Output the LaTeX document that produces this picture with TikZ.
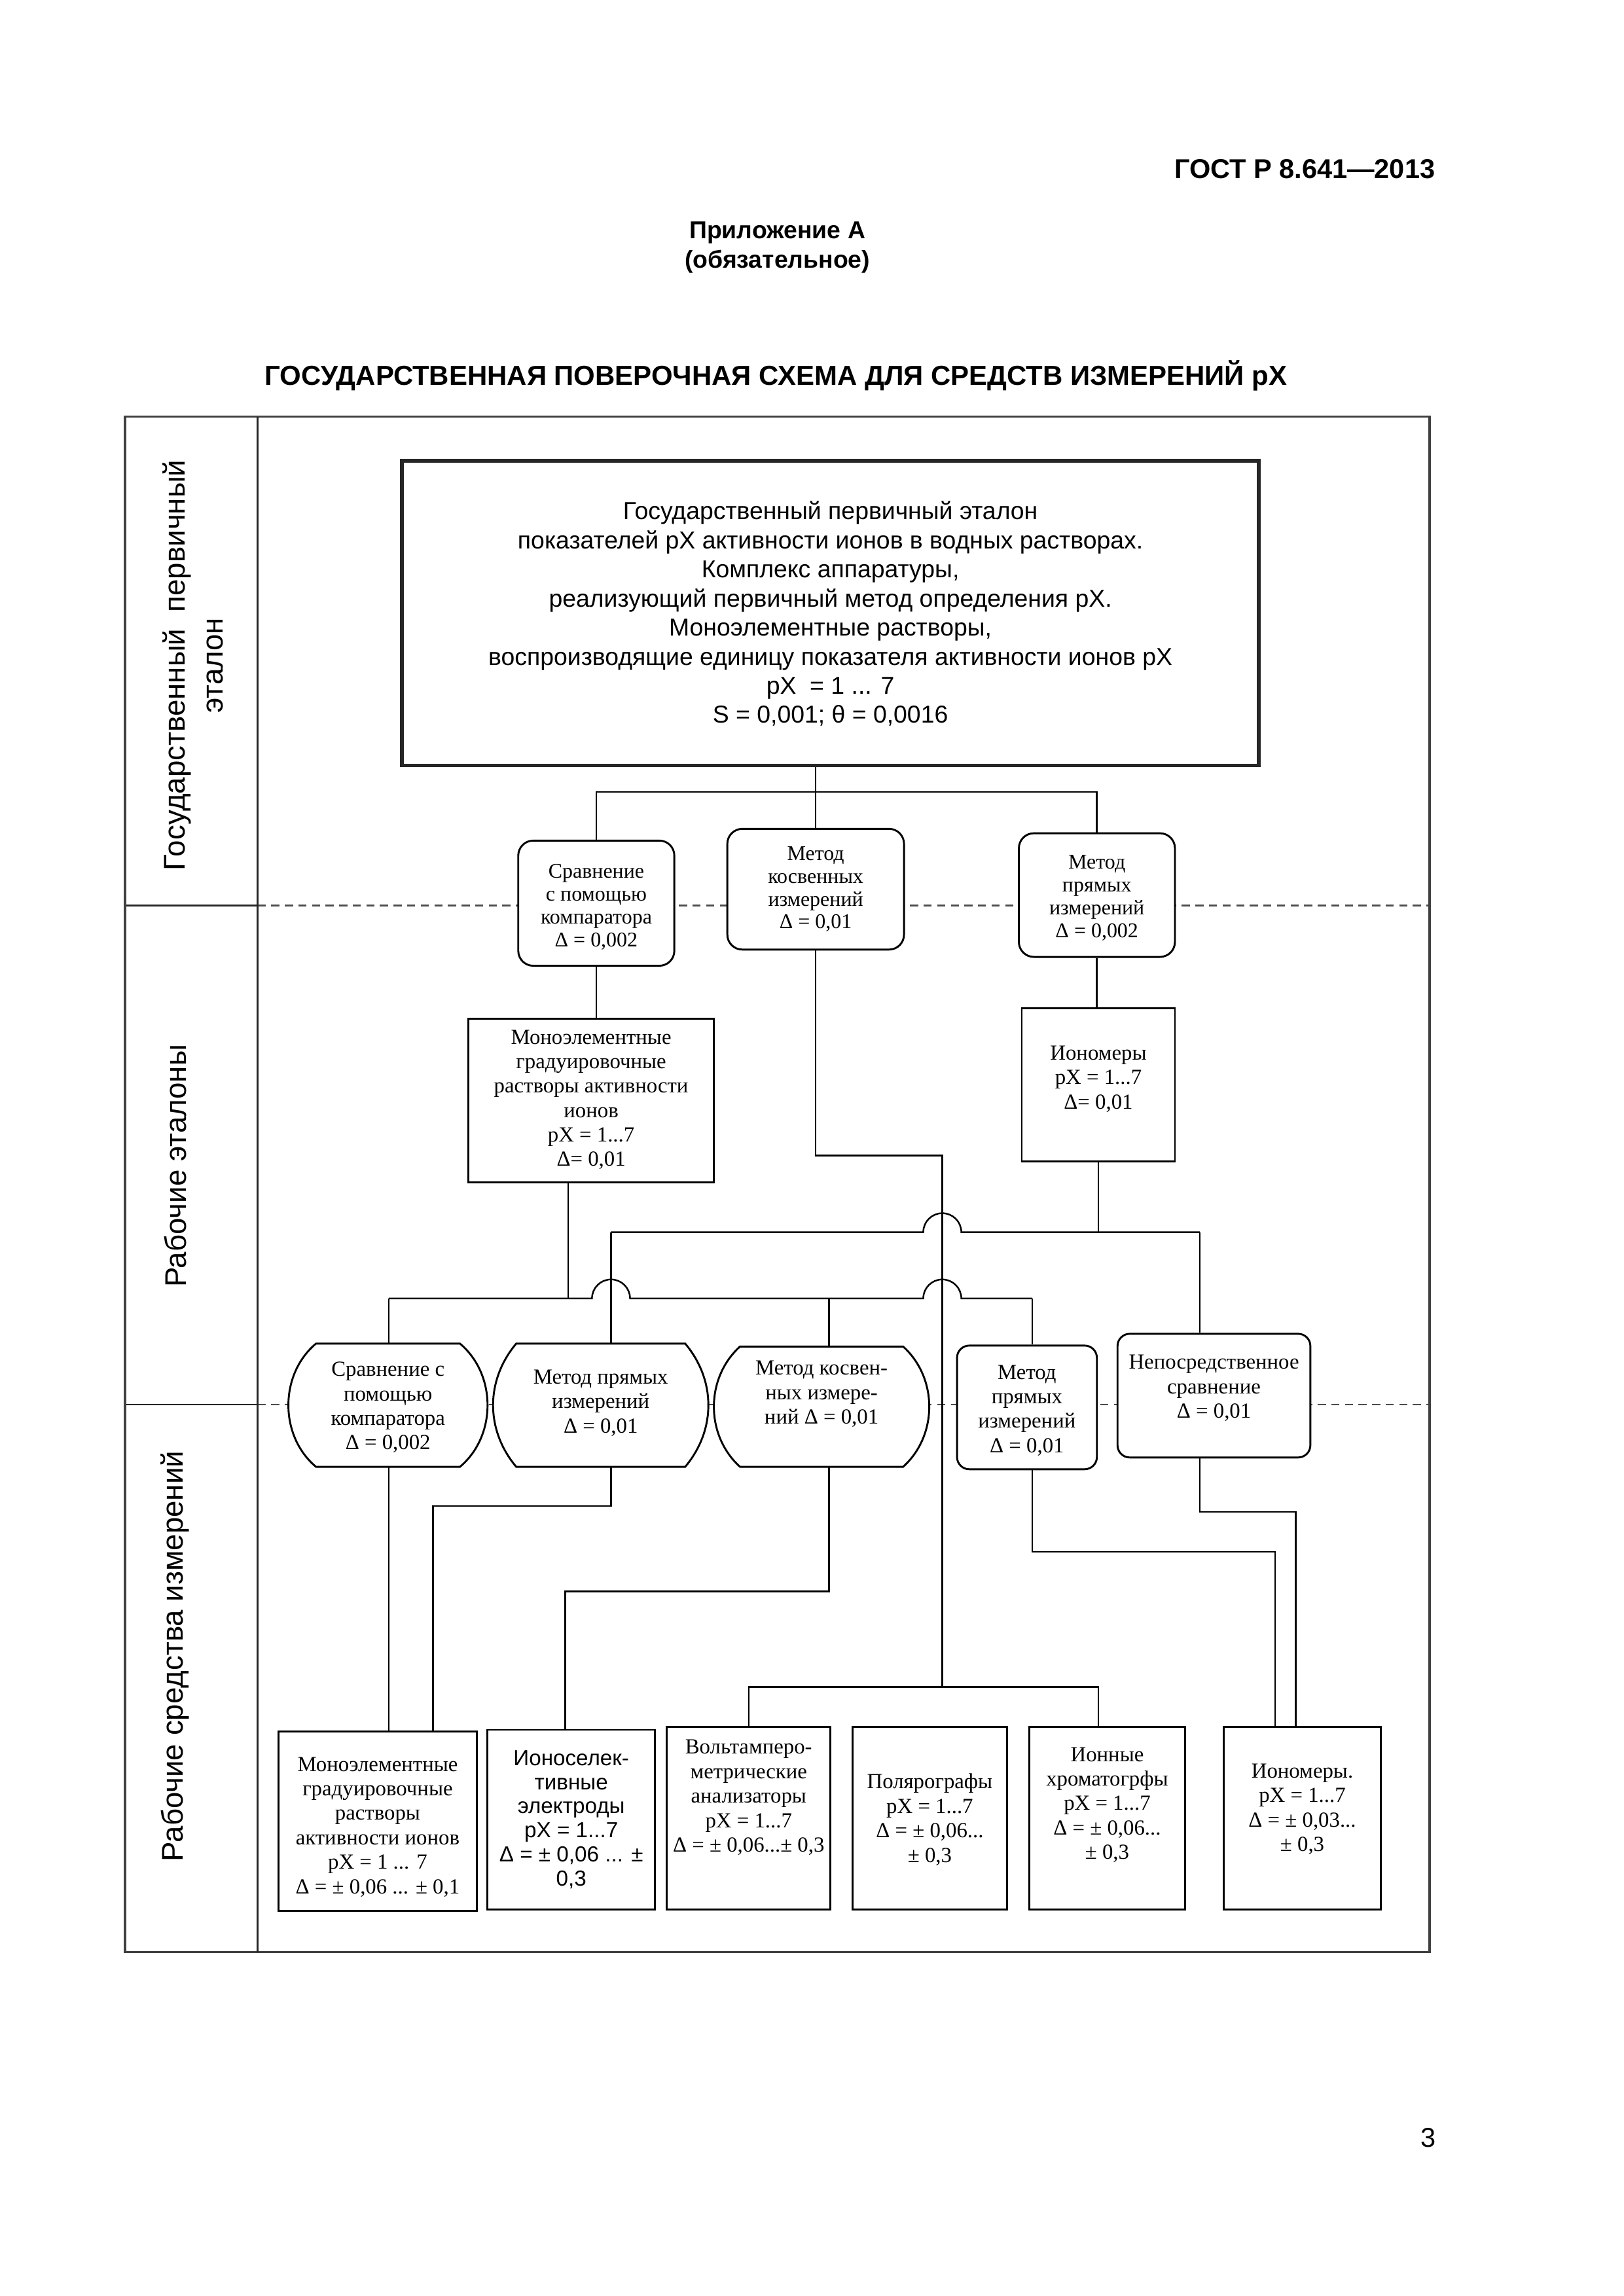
\documentclass[tikz,border=0pt]{standalone}
\usepackage{fontspec}
\setmainfont{Liberation Serif}
\newfontfamily\arialf{Liberation Sans}
\usetikzlibrary{calc,fit}
\begin{document}
\begin{tikzpicture}[x=0.19039mm,y=-0.19039mm,
  box/.style={draw, line width=0.7pt, fill=white, inner sep=0pt},
  rbox/.style={box, rounded corners=5.5pt},
  bbox/.style={inner sep=0pt},
  bulge/.style={draw, line width=0.7pt, fill=white},
  topbox/.style={draw=black!85, line width=1.3pt, fill=white, inner sep=0pt},
  conn/.style={line width=0.6pt},
  sepline/.style={line width=0.6pt, black!70, dash pattern=on 3pt off 2pt},
  frm/.style={line width=0.9pt, black!75},
  frmthin/.style={line width=0.6pt, black!85},
  txt/.style={align=center, inner sep=0pt, font=\fontsize{7.9}{9}\selectfont},
  txtb/.style={align=center, inner sep=0pt, font=\fontsize{7.7}{8.4}\selectfont},
  stxt/.style={align=center, inner sep=0pt, font=\arialf\fontsize{8}{8.9}\selectfont},
  lbl/.style={align=center, inner sep=0pt, rotate=90, font=\arialf\fontsize{11}{14}\selectfont},
  head/.style={inner sep=0pt, align=center, font=\arialf\bfseries\fontsize{10}{12}\selectfont}
]
\fill[white] (0,0) rectangle (1103,1559.6);
\useasboundingbox (0,0) rectangle (1103,1559.6);

% headings
\node[head, anchor=base east] (hdr) at (975,121) {ГОСТ Р 8.641—2013};
\node[head, font=\arialf\bfseries\fontsize{9}{10.8}\selectfont] (app) at (528,168) {Приложение А\\(обязательное)};
\node[head, font=\arialf\bfseries\fontsize{10.1}{12}\selectfont] (ttl) at (527,255) {ГОСУДАРСТВЕННАЯ ПОВЕРОЧНАЯ СХЕМА ДЛЯ СРЕДСТВ ИЗМЕРЕНИЙ pX};
\node[inner sep=0pt, font=\arialf\fontsize{10}{12}\selectfont] (pg) at (970,1452) {3};

% frame
\draw[sepline] (175,615) -- (971,615);
\draw[sepline] (175,954) -- (971,954);
\draw[frmthin] (85,615) -- (175,615);
\draw[frmthin] (85,954) -- (175,954);
\draw[frm] (85,283) rectangle (971,1326);
\draw[frmthin] (175,283) -- (175,1326);

\node[lbl] (L1) at (131,452) {Государственный\ \ первичный\\эталон};
\node[lbl] (L2) at (119,792) {Рабочие эталоны};
\node[lbl] (L3) at (119,1125) {Рабочие средства измерений};

% boxes
\node[topbox, fit={(273,313) (855,520)}] (T) {};
\node[inner sep=0pt, align=center, font=\arialf\fontsize{9}{10.7}\selectfont] (Tt) at (564,417)
 {Государственный первичный эталон\\показателей pX активности ионов в водных растворах.\\Комплекс аппаратуры,\\реализующий первичный метод определения pX.\\Моноэлементные растворы,\\воспроизводящие единицу показателя активности ионов pX\\pX\ \ = 1 ... 7\\S = 0,001; θ = 0,0016};

\node[rbox, fit={(352,571) (458,656)}] (A) {};
\node[rbox, fit={(494,563) (614,645)}] (B) {};
\node[rbox, fit={(692,566) (798,650)}] (C) {};
\node[txtb] (At) at (405,616) {Сравнение\\с помощью\\компаратора\\Δ = 0,002};
\node[txtb] (Bt) at (554,604) {Метод\\косвенных\\измерений\\Δ = 0,01};
\node[txtb] (Ct) at (745,610) {Метод\\прямых\\измерений\\Δ = 0,002};

\node[box, fit={(318,692) (485,803)}] (D) {};
\node[box, fit={(694,685) (798,789)}] (E) {};
\node[txt] (Dt) at (401.5,747) {Моноэлементные\\градуировочные\\растворы активности\\ионов\\pX = 1...7\\Δ= 0,01};
\node[txt] (Et) at (746,733) {Иономеры\\pX = 1...7\\Δ= 0,01};

% connectors top part
\coordinate (tb) at (554,538);
\draw[conn] (T.south -| B.north) -- (B.north);
\draw[conn] (A.north) |- (tb) -| (C.north);
\draw[conn] (A.south) -- (A.south |- D.north);
\draw[conn] (C.south) -- (C.south |- E.north);

\coordinate (k1) at (640,785);
\coordinate (k2) at (640,1146);
\draw[conn] (B.south) |- (k1) -- (k2);

\coordinate (ubL) at (415,837);
\coordinate (ubR) at (815,837);
\draw[conn] (ubL) -- ($(ubL -| k1)+(-7pt,0pt)$) arc[start angle=180, end angle=0, radius=7pt] -- (ubR);
\draw[conn] (E.south) -- (E.south |- ubL);

\coordinate (lbL) at (264,882);
\coordinate (lbR) at (701,882);
\coordinate (dD) at (386,882);
\coordinate (cC) at (563,882);
\draw[conn] (lbL) -- ($(lbL -| ubL)+(-7pt,0pt)$) arc[start angle=180, end angle=0, radius=7pt]
  -- ($(lbL -| k1)+(-7pt,0pt)$) arc[start angle=180, end angle=0, radius=7pt] -- (lbR);
\draw[conn] (dD |- D.south) -- (dD);

% row 4
\node[bbox, fit={(215,913) (312,996)}] (A4) {};
\node[bbox, fit={(351,913) (465,996)}] (B4) {};
\node[bbox, fit={(503,915) (613,996)}] (C4) {};
\node[rbox, rounded corners=4.5pt, fit={(650,914) (745,998)}] (D4) {};
\node[rbox, rounded corners=4.5pt, fit={(759,906) (890,990)}] (E4) {};
\draw[bulge] (A4.north west) -- (A4.north east) to[bend left=50] (A4.south east) -- (A4.south west) to[bend left=50] (A4.north west) -- cycle;
\draw[bulge] (B4.north west) -- (B4.north east) to[bend left=40] (B4.south east) -- (B4.south west) to[bend left=40] (B4.north west) -- cycle;
\draw[bulge] (C4.north west) -- (C4.north east) to[bend left=48] (C4.south east) -- (C4.south west) to[bend left=48] (C4.north west) -- cycle;
\node[txt] (A4t) at (263.5,956) {Сравнение с\\помощью\\компаратора\\Δ = 0,002};
\node[txt] (B4t) at (408,953) {Метод прямых\\измерений\\Δ = 0,01};
\node[txt] (C4t) at (558,947) {Метод косвен-\\ных измере-\\ний Δ = 0,01};
\node[txt] (D4t) at (697.5,958) {Метод\\прямых\\измерений\\Δ = 0,01};
\node[txt] (E4t) at (824.5,943) {Непосредственное\\сравнение\\Δ = 0,01};

\draw[conn] (lbL) -- (lbL |- A4.north);
\draw[conn] (cC) -- (cC |- C4.north);
\draw[conn] (lbR) -- (lbR |- D4.north);
\draw[conn] (ubL) -- (ubL |- B4.north);
\draw[conn] (ubR) -- (ubR |- E4.north);

% row 5
\node[box, fit={(189,1176) (324,1298)}] (F1) {};
\node[box, fit={(331,1175) (445,1297)}] (F2) {};
\node[box, fit={(453,1173) (564,1297)}] (F3) {};
\node[box, fit={(579,1173) (684,1297)}] (F4) {};
\node[box, fit={(699,1173) (805,1297)}] (F5) {};
\node[box, fit={(831,1173) (938,1297)}] (F6) {};
\node[txt] (F1t) at (256.5,1241) {Моноэлементные\\градуировочные\\растворы\\активности ионов\\pX = 1 ... 7\\Δ = ± 0,06 ... ± 0,1};
\node[stxt] (F2t) at (388,1236) {Ионоселек-\\тивные\\электроды\\pX = 1...7\\Δ = ± 0,06 ... ±\\0,3};
\node[txt] (F3t) at (508.5,1221) {Вольтамперо-\\метрические\\анализаторы\\pX = 1...7\\Δ = ± 0,06...± 0,3};
\node[txt] (F4t) at (631.5,1236) {Полярографы\\pX = 1...7\\Δ = ± 0,06...\\± 0,3};
\node[txt] (F5t) at (752,1226) {Ионные\\хроматогрфы\\pX = 1...7\\Δ = ± 0,06...\\± 0,3};
\node[txt] (F6t) at (884.5,1229) {Иономеры.\\pX = 1...7\\Δ = ± 0,03...\\± 0,3};

% row 4 -> row 5
\coordinate (q1) at (294,1023);
\coordinate (q2) at (384,1081);
\coordinate (q3) at (866,1054);
\coordinate (q4) at (880,1027);
\coordinate (b5r) at (746,1146);
\draw[conn] (A4.south -| lbL) -- (lbL |- F1.north);
\draw[conn] (ubL |- B4.south) |- (q1) -- (q1 |- F1.north);
\draw[conn] (cC |- C4.south) |- (q2) -- (q2 |- F2.north);
\draw[conn] (F3.north) |- (b5r) -- (b5r |- F5.north);
\draw[conn] (lbR |- D4.south) |- (q3) -- (q3 |- F6.north);
\draw[conn] (ubR |- E4.south) |- (q4) -- (q4 |- F6.north);
\end{tikzpicture}
\end{document}
